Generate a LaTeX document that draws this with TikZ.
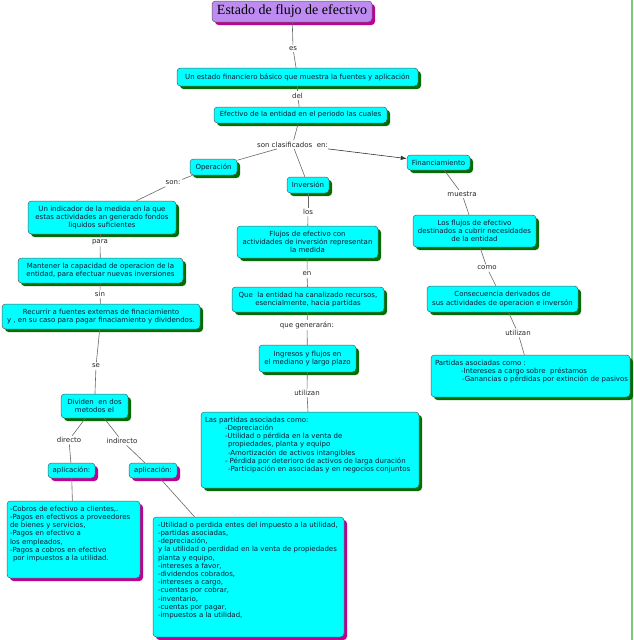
\documentclass[tikz,border=0pt]{standalone}
\usepackage{fontspec}
\setmainfont{DejaVu Sans}
\newfontfamily\titlefont{Liberation Serif}
\usetikzlibrary{shadows,arrows.meta}
\definecolor{cyanbox}{RGB}{0,255,255}
\definecolor{shgreen}{RGB}{0,110,0}
\definecolor{shmag}{RGB}{190,0,150}
\definecolor{titlefill}{RGB}{190,140,240}
\definecolor{txt}{RGB}{15,25,50}
\definecolor{conngray}{RGB}{105,105,105}
\definecolor{framegreen}{RGB}{120,205,120}
\newcommand{\fsz}{\fontsize{7}{8.2}\selectfont}
\begin{document}
\begin{tikzpicture}[x=1pt,y=-1pt,
 box/.style={draw=black!65, fill=cyanbox, rounded corners=3.5pt, text=txt, font=\fsz, inner sep=0pt, line width=0.5pt},
 cbox/.style={box, align=center},
 gshadow/.style={general shadow={fill=shgreen, shadow xshift=3pt, shadow yshift=-3pt}},
 mshadow/.style={general shadow={fill=shmag, shadow xshift=3pt, shadow yshift=-3pt}},
 lbl/.style={font=\fsz, text=black!85, inner sep=1.5pt},
 conn/.style={draw=conngray, line width=0.6pt},
 arrowconn/.style={draw=black!80, line width=0.6pt, -{Latex[length=6pt,width=4.5pt]}},
]
\fill[white] (0,0) rectangle (633,640);
\useasboundingbox (0,0) rectangle (633,640);
\draw[framegreen, line width=1.5pt] (632,0) -- (632,640);

% nodes
\node[cbox, mshadow, fill=titlefill, font=\titlefont\fontsize{14}{16}\selectfont, text=black, minimum width=160pt, minimum height=21pt] (title) at (292,11.5) {Estado de flujo de efectivo};
\node[cbox,gshadow,minimum width=241pt,minimum height=18pt] (A) at (297.5,77) {Un estado financiero básico que muestra la fuentes y aplicación};
\node[cbox,gshadow,minimum width=173pt,minimum height=16pt] (B) at (300.5,115) {Efectivo de la entidad en el periodo las cuales};
\node[cbox,gshadow,minimum width=47pt,minimum height=16pt] (op) at (213.5,167) {Operación};
\node[cbox,gshadow,minimum width=42pt,minimum height=16pt] (inv) at (308,185) {Inversión};
\node[cbox,gshadow,minimum width=63pt,minimum height=15pt] (fin) at (438.5,162.5) {Financiamiento};

\node[cbox,gshadow,minimum width=148pt,minimum height=33pt] (C) at (102,217.5) {Un indicador de la medida en la que\\estas actividades an generado fondos\\liquidos suficientes};
\node[cbox,gshadow,minimum width=165pt,minimum height=25pt] (D) at (100.5,270.5) {Mantener la capacidad de operacion de la\\entidad, para efectuar nuevas inversiones};
\node[cbox,gshadow,minimum width=198pt,minimum height=25pt] (E) at (101,316.5) {Recurrir a fuentes externas de finaciamiento\\y , en su caso para pagar finaciamiento y dividendos.};
\node[cbox,gshadow,minimum width=67pt,minimum height=24pt] (F) at (94.5,406) {Dividen\ \ en dos\\metodos el};
\node[cbox,mshadow,minimum width=47pt,minimum height=15pt] (G1) at (71.5,470.5) {aplicación:};
\node[cbox,mshadow,minimum width=48pt,minimum height=15pt] (G2) at (153,470.5) {aplicación:};
\node[box,mshadow,minimum width=133pt,minimum height=77pt] (H1) at (73.5,539.5) {\parbox[c][67pt][t]{127pt}{\raggedright
\mbox{-Cobros de efectivo a clientes,.}\\
\mbox{-Pagos en efectivos a proveedores}\\
\mbox{de bienes y servicios,}\\
\mbox{-Pagos en efectivo a}\\
\mbox{los empleados,}\\
\mbox{-Pagos a cobros en efectivo}\\
\mbox{\hspace*{3pt}por impuestos a la utilidad.}}};
\node[box,mshadow,minimum width=191pt,minimum height=120pt] (H2) at (248.5,577) {\parbox[c][110pt][t]{181pt}{\raggedright
\mbox{-Utilidad o perdida entes del impuesto a la utilidad,}\\
\mbox{-partidas asociadas,}\\
\mbox{-depreciación,}\\
\mbox{y la utilidad o perdidad en la venta de propiedades}\\
\mbox{planta y equipo,}\\
\mbox{-intereses a favor,}\\
\mbox{-dividendos cobrados,}\\
\mbox{-intereses a cargo,}\\
\mbox{-cuentas por cobrar,}\\
\mbox{-inventario,}\\
\mbox{-cuentas por pagar,}\\
\mbox{-impuestos a la utilidad,}}};

\node[cbox,gshadow,minimum width=141pt,minimum height=32pt] (I1) at (307.5,242) {Flujos de efectivo con\\actividades de inversión representan\\la medida};
\node[cbox,gshadow,minimum width=152pt,minimum height=25pt] (I2) at (308,299.5) {Que\ \ la entidad ha canalizado recursos,\\esencialmente, hacia partidas};
\node[cbox,gshadow,minimum width=97pt,minimum height=27pt] (I3) at (307.5,358.5) {Ingresos y flujos en\\el mediano y largo plazo};
\node[box,gshadow,minimum width=218pt,minimum height=76pt] (I4) at (310,450) {\parbox[c][66pt][t]{210pt}{\raggedright
\mbox{Las partidas asociadas como:}\\
\mbox{\hspace*{20pt}-Depreciación}\\
\mbox{\hspace*{20pt}-Utilidad o pérdida en la venta de}\\
\mbox{\hspace*{23pt}propiedades, planta y equipo}\\
\mbox{\hspace*{23pt}-Amortización de activos intangibles}\\
\mbox{\hspace*{20pt}- Pérdida por deterioro de activos de larga duración}\\
\mbox{\hspace*{23pt}-Participación en asociadas y en negocios conjuntos}}};

\node[cbox,gshadow,minimum width=123pt,minimum height=32pt] (J1) at (474.5,231) {Los flujos de efectivo\\destinados a cubrir necesidades\\de la entidad};
\node[cbox,gshadow,minimum width=151pt,minimum height=26pt] (J2) at (502.5,299) {Consecuencia derivados de\\sus actividades de operacion e inversón};
\node[box,gshadow,minimum width=199pt,minimum height=42pt] (J3) at (530.5,376) {\parbox[c][32pt][t]{191pt}{\raggedright
\mbox{Partidas asociadas como :}\\
\mbox{\hspace*{26pt}-Intereses a cargo sobre\ \ préstamos}\\
\mbox{\hspace*{27pt}-Ganancias o pérdidas por extinción de pasivos}}};

% labels
\node[lbl] (les) at (293,48.5) {es};
\node[lbl] (ldel) at (297.5,95.5) {del};
\node[lbl] (lclas) at (292.5,144.5) {son clasificados\ \ en:};
\node[lbl] (lson) at (173,183) {son:};
\node[lbl] (lpara) at (100,242) {para};
\node[lbl] (lsin) at (100,294) {sin};
\node[lbl] (lse) at (96,366) {se};
\node[lbl] (ldir) at (69,440) {directo};
\node[lbl] (lind) at (122,441) {indirecto};
\node[lbl] (llos) at (308,212) {los};
\node[lbl] (len) at (307,274) {en};
\node[lbl] (lqg) at (307,325) {que generarán:};
\node[lbl] (lut1) at (307,393) {utilizan};
\node[lbl] (lmu) at (462,194) {muestra};
\node[lbl] (lcomo) at (487,268) {como};
\node[lbl] (lut2) at (518,333) {utilizan};

% connectors
\draw[conn] (title) -- (les);
\draw[conn] (les) -- (A);
\draw[conn] (A) -- (ldel);
\draw[conn] (ldel) -- (B);
\draw[conn] (B) -- (lclas);
\draw[conn] (lclas) -- (op);
\draw[conn] (lclas) -- (inv);
\draw[arrowconn] (lclas) -- (fin);
\draw[conn] (op) -- (lson);
\draw[conn] (lson) -- (C);
\draw[conn] (C) -- (lpara);
\draw[conn] (lpara) -- (D);
\draw[conn] (D) -- (lsin);
\draw[conn] (lsin) -- (E);
\draw[conn] (E) -- (lse);
\draw[conn] (lse) -- (F);
\draw[conn] (F) -- (ldir);
\draw[conn] (ldir) -- (G1);
\draw[conn] (F) -- (lind);
\draw[conn] (lind) -- (G2);
\draw[conn] (G1) -- (H1);
\draw[conn] (G2) -- (H2);
\draw[conn] (inv) -- (llos);
\draw[conn] (llos) -- (I1);
\draw[conn] (I1) -- (len);
\draw[conn] (len) -- (I2);
\draw[conn] (I2) -- (lqg);
\draw[conn] (lqg) -- (I3);
\draw[conn] (I3) -- (lut1);
\draw[conn] (lut1) -- (I4);
\draw[conn] (fin) -- (lmu);
\draw[conn] (lmu) -- (J1);
\draw[conn] (J1) -- (lcomo);
\draw[conn] (lcomo) -- (J2);
\draw[conn] (J2) -- (lut2);
\draw[conn] (lut2) -- (J3);
\end{tikzpicture}
\end{document}
